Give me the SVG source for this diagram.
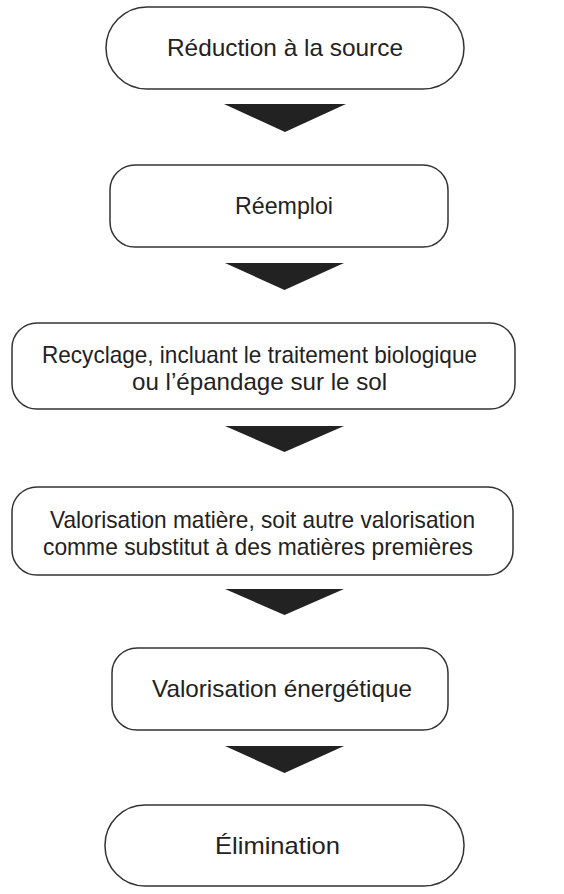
<svg xmlns="http://www.w3.org/2000/svg" width="564" height="894" viewBox="0 0 564 894">
<style>
.box{fill:#fff;stroke:#333;stroke-width:1.5}
.lbl{font-family:"Liberation Sans",Arial,sans-serif;font-size:24px;fill:#222;text-anchor:middle}
.arr{fill:#222}
</style>
<rect width="564" height="894" fill="#fff"/>
<g id="n1"><rect class="box" x="106" y="7" width="358" height="82" rx="41"/><text class="lbl" x="285" y="56" textLength="236" lengthAdjust="spacingAndGlyphs">Réduction à la source</text></g>
<g id="n2"><rect class="box" x="110" y="165" width="338" height="82" rx="25"/><text class="lbl" x="284" y="214" textLength="98" lengthAdjust="spacingAndGlyphs">Réemploi</text></g>
<g id="n3"><rect class="box" x="12" y="323" width="503" height="86" rx="25"/><text class="lbl" x="259.5" y="363" textLength="435" lengthAdjust="spacingAndGlyphs">Recyclage, incluant le traitement biologique</text><text class="lbl" x="259.5" y="390" textLength="255" lengthAdjust="spacingAndGlyphs">ou l’épandage sur le sol</text></g>
<g id="n4"><rect class="box" x="12" y="487" width="501" height="88" rx="25"/><text class="lbl" x="262.5" y="528" textLength="425" lengthAdjust="spacingAndGlyphs">Valorisation matière, soit autre valorisation</text><text class="lbl" x="258" y="555" textLength="430" lengthAdjust="spacingAndGlyphs">comme substitut à des matières premières</text></g>
<g id="n5"><rect class="box" x="112" y="648" width="336" height="82" rx="25"/><text class="lbl" x="282" y="697" textLength="260" lengthAdjust="spacingAndGlyphs">Valorisation énergétique</text></g>
<g id="n6"><rect class="box" x="105" y="805" width="359" height="81" rx="40"/><text class="lbl" x="277.5" y="854" textLength="125" lengthAdjust="spacingAndGlyphs">Élimination</text></g>
<g id="connectors">
<polygon class="arr" points="224,104 346,104 285,132"/>
<polygon class="arr" points="225,263 344,263 284.5,290"/>
<polygon class="arr" points="225,426 344,426 284.5,452"/>
<polygon class="arr" points="225,589 344,589 284.5,615"/>
<polygon class="arr" points="225,746 344,746 284.5,773"/>
</g>
</svg>
